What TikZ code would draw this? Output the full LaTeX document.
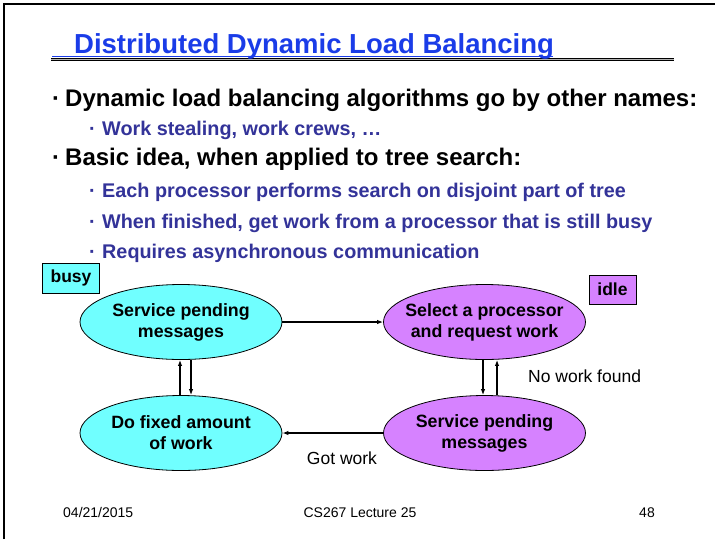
\documentclass[tikz,border=0pt]{standalone}
\usepackage{fontspec}
\setmainfont{Liberation Sans}
\usetikzlibrary{arrows.meta,shapes.geometric}

\definecolor{titleblue}{RGB}{26,60,232}
\definecolor{subblue}{RGB}{51,51,153}
\definecolor{busycyan}{RGB}{112,255,255}
\definecolor{idlepurple}{RGB}{214,130,255}

\tikzset{
  px/.style={x=1pt,y=-1pt},
  titletext/.style={anchor=base west,inner sep=0pt,text=titleblue,font=\fontsize{27.5}{30}\selectfont\bfseries},
  mainbullet/.style={anchor=base west,inner sep=0pt,text=black,font=\fontsize{24}{28}\selectfont\bfseries},
  subbullet/.style={anchor=base west,inner sep=0pt,text=subblue,font=\fontsize{19.8}{24}\selectfont\bfseries},
  busyell/.style={ellipse,draw=black,line width=0.8pt,fill=busycyan,minimum width=202pt,minimum height=75pt,inner sep=0pt},
  idleell/.style={ellipse,draw=black,line width=0.8pt,fill=idlepurple,minimum width=202pt,minimum height=75pt,inner sep=0pt},
  elltext/.style={align=center,inner sep=0pt,font=\fontsize{17.8}{21}\selectfont\bfseries},
  statebox/.style={draw=black,line width=0.8pt,inner sep=0pt,font=\fontsize{17.5}{21}\selectfont\bfseries},
  arr/.style={line width=1.2pt,-{Latex[length=6pt,width=4.5pt]}},
  edgetext/.style={inner sep=0pt,font=\fontsize{17.5}{21}\selectfont},
  foot/.style={inner sep=0pt,font=\fontsize{14}{16}\selectfont},
}

\begin{document}
\begin{tikzpicture}[px]
  \useasboundingbox (0,0) rectangle (715,539);
  \fill[white] (0,0) rectangle (715,539);

  % slide frame (top and left edges)
  \draw[line width=2.5pt] (4,539) -- (4,4) -- (715,4);

  % title with its rules
  \draw[line width=3.6pt] (51,59.3) -- (674,59.3);
  \draw[line width=1.2pt,gray!60] (51,59.3) -- (674,59.3);
  \draw[line width=1.6pt,titleblue] (52,56.5) -- (553,56.5);
  \node[titletext] (title) at (74,53) {Distributed Dynamic Load Balancing};

  % bullet list
  \node[mainbullet] (d1) at (52,106) {·};
  \node[mainbullet] (b1) at (65,106) {Dynamic load balancing algorithms go by other names:};
  \node[subbullet] (d2) at (89,135) {·};
  \node[subbullet] (s1) at (102,135) {Work stealing, work crews, …};
  \node[mainbullet] (d3) at (52,165) {·};
  \node[mainbullet] (b2) at (65,165) {Basic idea, when applied to tree search:};
  \node[subbullet] (d4) at (89,197) {·};
  \node[subbullet] (s2) at (102,197) {Each processor performs search on disjoint part of tree};
  \node[subbullet] (d5) at (89,228) {·};
  \node[subbullet] (s3) at (102,228) {When finished, get work from a processor that is still busy};
  \node[subbullet] (d6) at (89,258) {·};
  \node[subbullet] (s4) at (102,258) {Requires asynchronous communication};

  % state labels
  \node[statebox,fill=busycyan,minimum width=57pt,minimum height=30pt] (busy) at (71,278) {busy};
  \node[statebox,fill=idlepurple,minimum width=47pt,minimum height=29pt] (idle) at (612.5,289.5) {idle};

  % states
  \node[busyell] (tl) at (181,322) {};
  \node[idleell] (tr) at (484.5,322) {};
  \node[busyell] (bl) at (181,433) {};
  \node[idleell] (br) at (484.5,433) {};
  \node[elltext] (tlt) at (tl) {Service pending\\messages};
  \node[elltext] (trt) at (tr) {Select a processor\\and request work};
  \node[elltext] (blt) at (bl) {Do fixed amount\\of work};
  \node[elltext] (brt) at (br) {Service pending\\messages};

  % transitions
  \draw[arr] (tl.east) -- (tr.west);
  \draw[arr] (br.west) -- (bl.east);
  \draw[arr] ([xshift=-1pt]bl.north) -- ([xshift=-1pt]tl.south);
  \draw[arr] ([xshift=10pt]tl.south) -- ([xshift=10pt]bl.north);
  \draw[arr] ([xshift=-1.5pt]tr.south) -- ([xshift=-1.5pt]br.north);
  \draw[arr] ([xshift=12.5pt]br.north) -- ([xshift=12.5pt]tr.south);

  \node[edgetext,anchor=west] (nwf) at (528,376) {No work found};
  \node[edgetext] (gw) at (342,458) {Got work};

  % footer, all on one baseline
  \node[foot,anchor=base west] (date) at (63,517) {04/21/2015};
  \node[foot,anchor=base] (course) at (360,517) {CS267 Lecture 25};
  \node[foot,anchor=base east] (page) at (655,517) {48};
\end{tikzpicture}
\end{document}
